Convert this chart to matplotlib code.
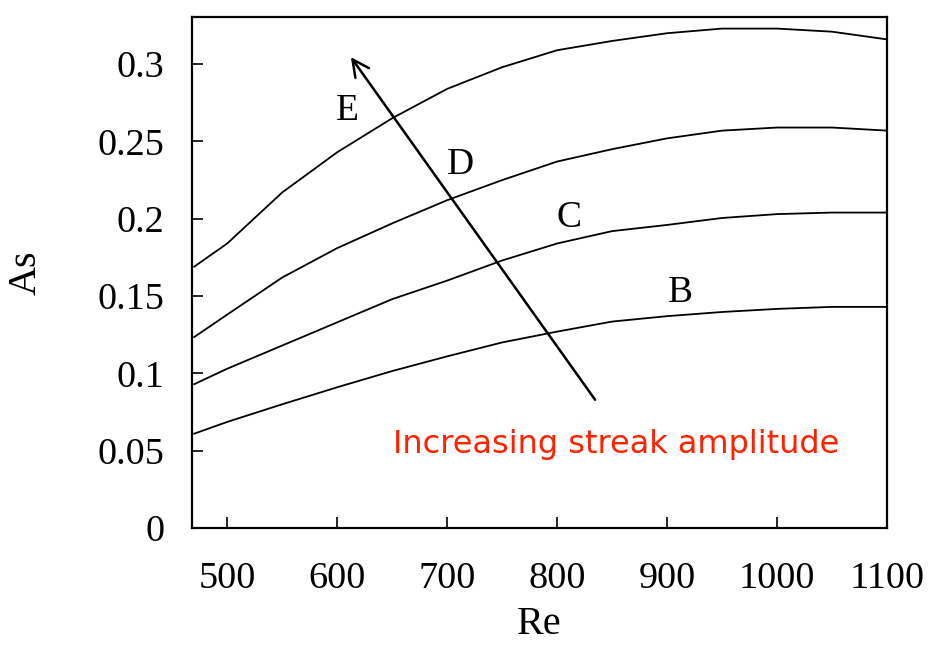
import numpy as np
import matplotlib
matplotlib.use("Agg")
import matplotlib.pyplot as plt

# Reynolds number samples and streak amplitude curves
re_vals = [470, 500, 550, 600, 650, 700, 750, 800, 850, 900, 950, 1000, 1050, 1100]
as_B = [0.061, 0.0686, 0.080, 0.091, 0.1015, 0.111, 0.120, 0.127, 0.1335, 0.137, 0.1397, 0.1417, 0.143, 0.143]
as_C = [0.093, 0.103, 0.118, 0.133, 0.148, 0.160, 0.173, 0.184, 0.192, 0.196, 0.2005, 0.203, 0.204, 0.204]
as_D = [0.1235, 0.138, 0.162, 0.181, 0.197, 0.212, 0.225, 0.237, 0.245, 0.252, 0.257, 0.259, 0.259, 0.257]
as_E = [0.169, 0.184, 0.217, 0.243, 0.265, 0.284, 0.298, 0.309, 0.315, 0.320, 0.323, 0.323, 0.321, 0.316]

curve_names = ["B", "C", "D", "E"]
label_pos = {"E": (609, 0.270), "D": (712, 0.235), "C": (811, 0.2005), "B": (912, 0.152)}

xticks = [500, 600, 700, 800, 900, 1000, 1100]
yticks = [0, 0.05, 0.1, 0.15, 0.2, 0.25, 0.3]
ytick_labels = ["0", "0.05", "0.1", "0.15", "0.2", "0.25", "0.3"]

serif = "Liberation Serif"

fig = plt.figure(figsize=(9.33, 6.46), dpi=100)
ax = fig.add_axes([0.2058, 0.1827, 0.7449, 0.791])

for ys in [as_B, as_C, as_D, as_E]:
    ax.plot(re_vals, ys, color="black", lw=1.3)

for name in curve_names:
    x, y = label_pos[name]
    ax.text(x, y, name, fontsize=27, family=serif, ha="center", va="center")

# arrow pointing towards larger amplitudes
ax.annotate("", xy=(611, 0.306), xytext=(836, 0.0815),
            arrowprops=dict(arrowstyle="->", color="black", lw=1.8,
                            mutation_scale=30))
ax.text(854, 0.0543, "Increasing streak amplitude", color="#ff2200",
        fontsize=23, family="DejaVu Sans", ha="center", va="center")

ax.set_xlim(468, 1099)
ax.set_ylim(0, 0.3305)
ax.set_xticks(xticks)
ax.set_yticks(yticks)
ax.set_yticklabels(ytick_labels)
ax.tick_params(direction="in", length=8, width=1.2, top=False, right=False)
ax.tick_params(axis="x", pad=24)
ax.tick_params(axis="y", pad=20)
for lab in ax.get_xticklabels() + ax.get_yticklabels():
    lab.set_family(serif)
    lab.set_fontsize(27.5)
for sp in ax.spines.values():
    sp.set_linewidth(1.6)

ax.set_xlabel("Re", family=serif, fontsize=29, labelpad=7)
ax.set_ylabel("As", family=serif, fontsize=29, labelpad=38)

fig.savefig("out.png", dpi=100)
